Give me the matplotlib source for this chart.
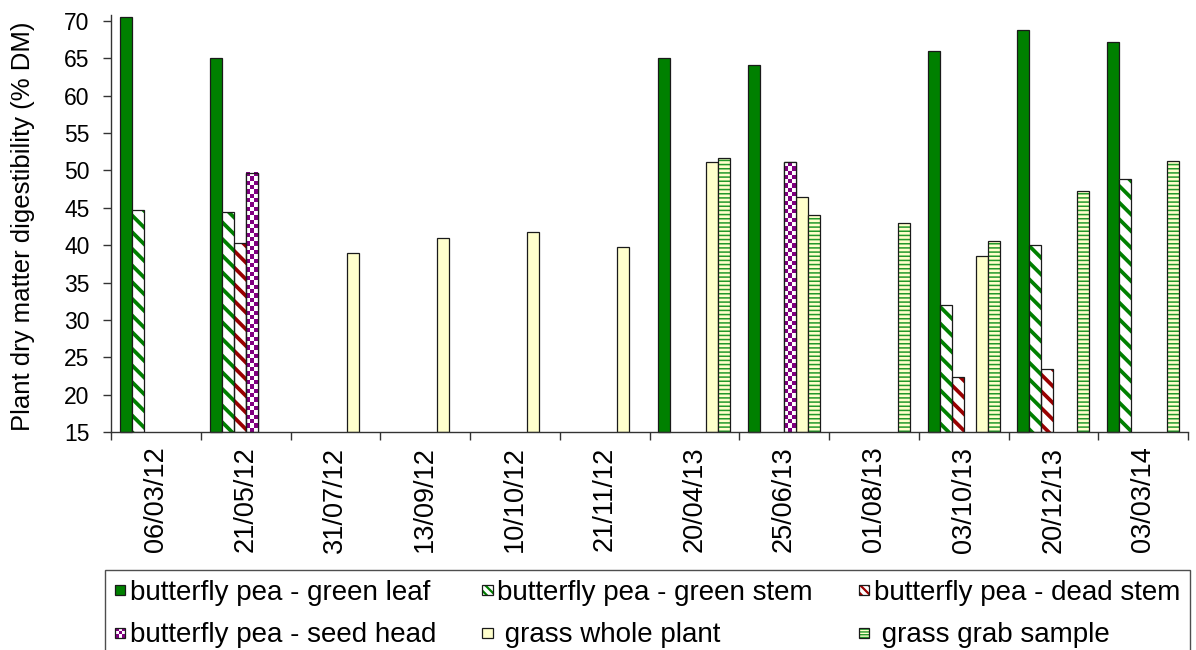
import numpy as np
import matplotlib
matplotlib.use("Agg")
import matplotlib.pyplot as plt
from matplotlib.patches import Rectangle
from matplotlib.legend_handler import HandlerBase
from matplotlib.colors import ListedColormap

plt.rcParams['font.family'] = ['Liberation Sans', 'DejaVu Sans']

dates = ["06/03/12", "21/05/12", "31/07/12", "13/09/12", "10/10/12", "21/11/12",
         "20/04/13", "25/06/13", "01/08/13", "03/10/13", "20/12/13", "03/03/14"]
nan = np.nan
green_leaf = [70.5, 65.0, nan, nan, nan, nan, 65.0, 64.1, nan, 66.0, 68.8, 67.2]
green_stem = [44.7, 44.4, nan, nan, nan, nan, nan, nan, nan, 32.0, 40.0, 48.8]
dead_stem = [nan, 40.3, nan, nan, nan, nan, nan, nan, nan, 22.4, 23.4, nan]
seed_head = [nan, 49.7, nan, nan, nan, nan, nan, 51.1, nan, nan, nan, nan]
grass_whole = [nan, nan, 39.0, 40.9, 41.8, 39.7, 51.1, 46.4, nan, 38.5, nan, nan]
grass_grab = [nan, nan, nan, nan, nan, nan, 51.6, 44.0, 43.0, 40.5, 47.3, 51.3]

labels = ["butterfly pea - green leaf", "butterfly pea - green stem",
          "butterfly pea - dead stem", "butterfly pea - seed head",
          " grass whole plant", " grass grab sample"]
yticks = [15, 20, 25, 30, 35, 40, 45, 50, 55, 60, 65, 70]

GREEN = '#008000'
DRED = '#990000'
PURPLE = '#800080'
PALE = '#FFFFCC'
GRABLINE = '#22992a'
EDGE = '#1a1a1a'

W, H = 1196, 650
fig = plt.figure(figsize=(W / 100, H / 100), dpi=100)
ax = fig.add_axes([111 / W, 1 - 432 / H, 1077 / W, (432 - 21) / H])

ymin, ymax = 15, 70
ax.set_xlim(-0.5, len(dates) - 0.5)
ax.set_ylim(ymin, ymax)

x = np.arange(len(dates))
bw = 0.8 / 6
series = [green_leaf, green_stem, dead_stem, seed_head, grass_whole, grass_grab]
offs = [-0.4 + bw * (j + 0.5) for j in range(6)]

# style per series: (face, hatch, hatchcolor, hatch_lw)
styles = [
    (GREEN, None, None, None),
    ('white', '\\\\', GREEN, 2.7),
    ('white', '\\\\', DRED, 2.7),
    ('white', None, None, None),
    (PALE, None, None, None),
    (PALE, '----', GRABLINE, 1.1),
]

seed_bars = None
for j, (vals, st) in enumerate(zip(series, styles)):
    face, hatch, hcol, hlw = st
    v = np.array(vals, dtype=float) - ymin
    if hatch:
        with plt.rc_context({'hatch.linewidth': hlw}):
            hb = ax.bar(x + offs[j], v, bottom=ymin, width=bw, color=face, edgecolor=hcol,
                        hatch=hatch, linewidth=0, zorder=2)
            for p in hb:
                if hasattr(p, 'set_hatch_linewidth'):
                    p.set_hatch_linewidth(hlw)
        ax.bar(x + offs[j], v, bottom=ymin, width=bw, fill=False, edgecolor=EDGE,
               linewidth=0.9, zorder=3)
    else:
        b = ax.bar(x + offs[j], v, bottom=ymin, width=bw, color=face, edgecolor=EDGE,
                   linewidth=0.9, zorder=2)
        if j == 0:
            for p in b:
                p.set_clip_on(False)
        if j == 3:
            seed_bars = b

# checkerboard fill for seed head bars
cmap = ListedColormap(['white', PURPLE])
for p, v in zip(seed_bars, seed_head):
    if np.isnan(v):
        continue
    x0, w = p.get_x(), p.get_width()
    y0, y1 = ymin, v
    hpx = ax.transData.transform((0, y1))[1] - ax.transData.transform((0, y0))[1]
    nrows = max(1, int(round(hpx / 4.3)))
    arr = (np.indices((nrows, 3)).sum(axis=0) % 2)[::-1]
    ax.imshow(arr, extent=[x0, x0 + w, y0, y1], cmap=cmap, interpolation='nearest',
              aspect='auto', origin='upper', zorder=2.5)
    ax.add_patch(Rectangle((x0, y0), w, y1 - y0, fill=False, edgecolor=EDGE,
                           linewidth=0.9, zorder=3))

ax.set_xlim(-0.5, len(dates) - 0.5)
ax.set_ylim(ymin, ymax)

for s in ['top', 'right']:
    ax.spines[s].set_visible(False)
for s in ['left', 'bottom']:
    ax.spines[s].set_color('#333333')
    ax.spines[s].set_linewidth(1.0)
ax.spines['left'].set_bounds(ymin, 70.8)

ax.set_yticks(yticks)
ax.set_yticklabels([str(t) for t in yticks])
ax.tick_params(axis='y', direction='out', length=6, width=1, color='#333333',
               pad=9.5, labelsize=16.5)

ax.set_xticks(np.arange(-0.5, len(dates), 1.0))
ax.set_xticklabels([])
ax.set_xticks(x, minor=True)
ax.set_xticklabels(dates, minor=True, rotation=90, fontsize=19.5)
ax.tick_params(axis='x', which='major', direction='out', length=5.5, width=1,
               color='#333333')
ax.tick_params(axis='x', which='minor', length=0, pad=10.5)

ax.set_ylabel("Plant dry matter digestibility (% DM)", fontsize=18.5)
ax.yaxis.set_label_coords((23 - 111) / 1077, 0.5)
ax.yaxis.label.set_verticalalignment('center')


# legend with custom swatches
class Swatch(HandlerBase):
    def __init__(self, face, hatch=None, hcol=None, hlw=None, checker=False):
        super().__init__()
        self.face, self.hatch, self.hcol, self.hlw, self.checker = face, hatch, hcol, hlw, checker

    def create_artists(self, legend, orig_handle, xdescent, ydescent, width, height,
                       fontsize, trans):
        s = 7.4
        x0 = -xdescent + (width - s) / 2
        y0 = -ydescent + (height - s) / 2
        arts = []
        if self.hatch:
            with plt.rc_context({'hatch.linewidth': self.hlw}):
                r = Rectangle((x0, y0), s, s, facecolor=self.face, edgecolor=self.hcol,
                              hatch=self.hatch, linewidth=0, transform=trans)
                if hasattr(r, 'set_hatch_linewidth'):
                    r.set_hatch_linewidth(self.hlw)
            arts.append(r)
        else:
            arts.append(Rectangle((x0, y0), s, s, facecolor=self.face, linewidth=0,
                                  transform=trans))
        if self.checker:
            c = s / 3
            for i in range(3):
                for k in range(3):
                    if (i + k) % 2 == 0:
                        arts.append(Rectangle((x0 + i * c, y0 + k * c), c, c,
                                              facecolor=PURPLE, linewidth=0,
                                              transform=trans))
        arts.append(Rectangle((x0, y0), s, s, fill=False, edgecolor=EDGE,
                              linewidth=0.9, transform=trans))
        return arts


handlers = [Swatch(GREEN), Swatch('white', '\\\\\\\\', GREEN, 1.6),
            Swatch('white', '\\\\\\\\', DRED, 1.6), Swatch('white', checker=True),
            Swatch(PALE), Swatch(PALE, '------', GRABLINE, 1.0)]
proxies = [Rectangle((0, 0), 1, 1) for _ in labels]
order = [0, 3, 1, 4, 2, 5]
top = 1 - 570 / H
leg = fig.legend([proxies[i] for i in order], [labels[i] for i in order],
                 handler_map={proxies[i]: handlers[i] for i in range(6)},
                 loc='upper left', bbox_to_anchor=(105 / W, top - 0.3, (1190 - 105) / W, 0.3),
                 bbox_transform=fig.transFigure, mode='expand', ncol=3,
                 fontsize=20, frameon=True, fancybox=False, borderaxespad=0,
                 handlelength=0.4, handletextpad=0.15, labelspacing=0.6,
                 borderpad=0.35, columnspacing=1.5)
leg.get_frame().set_edgecolor('#222222')
leg.get_frame().set_linewidth(1.0)

fig.savefig('out.png', dpi=100)
